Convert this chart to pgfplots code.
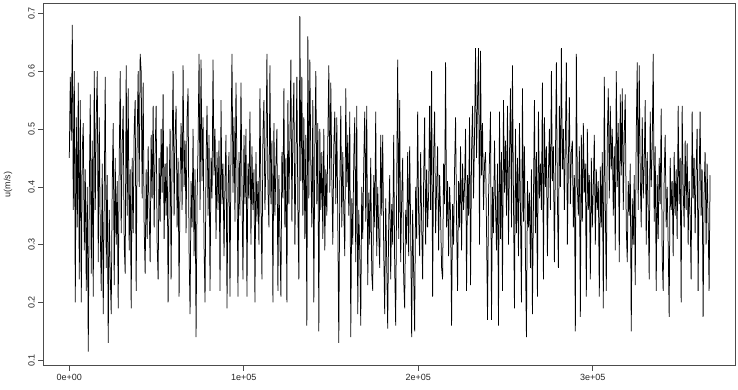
\documentclass[border=0pt]{standalone}
\usepackage{pgfplots}
\pgfplotsset{compat=1.18}
\usepackage{fontspec}
\setmainfont{Liberation Sans}
\begin{document}
\begin{tikzpicture}[x=1pt,y=1pt]
\path[use as bounding box] (-43.3,-23.3) rectangle (694.7,365.7);
\begin{axis}[
  at={(0,0)}, anchor=south west,
  scale only axis, width=692.4pt, height=362.4pt,
  xmin=-14900, xmax=381900, ymin=0.0907, ymax=0.7173,
  xtick={0,100000,200000,300000},
  xticklabels={0e+00,1e+05,2e+05,3e+05},
  ytick={0.1,0.2,0.3,0.4,0.5,0.6,0.7},
  yticklabels={0.1,0.2,0.3,0.4,0.5,0.6,0.7},
  scaled x ticks=false, scaled y ticks=false,
  tick pos=left,
  tick align=outside, major tick length=5pt,
  axis line style={black!70, line width=0.6pt},
  every tick/.style={black!70, line width=0.6pt},
  tick label style={font=\fontsize{9}{10}\selectfont, text=black!85},
  yticklabel style={rotate=90, anchor=south},
  ylabel={u(m/s)},
  ylabel style={font=\fontsize{9}{10}\selectfont, text=black!85, at={(axis description cs:-0.051,0.5)}, anchor=center},
]
\addplot[black, line width=0.75pt, mark=none, line join=bevel] table[row sep=\\, header=false, x expr=\coordindex*572, y index=0]{
0.45\\0.59\\0.48\\0.68\\0.36\\0.60\\0.20\\0.52\\0.33\\0.58\\
0.24\\0.55\\0.20\\0.46\\0.51\\0.29\\0.43\\0.22\\0.40\\0.115\\
0.38\\0.56\\0.25\\0.48\\0.21\\0.60\\0.36\\0.52\\0.60\\0.27\\
0.52\\0.33\\0.22\\0.44\\0.18\\0.38\\0.59\\0.26\\0.42\\0.13\\
0.36\\0.25\\0.18\\0.40\\0.51\\0.23\\0.45\\0.30\\0.41\\0.19\\
0.44\\0.60\\0.32\\0.47\\0.54\\0.30\\0.25\\0.61\\0.35\\0.57\\
0.29\\0.43\\0.19\\0.45\\0.32\\0.50\\0.55\\0.22\\0.48\\0.60\\
0.40\\0.63\\0.60\\0.38\\0.58\\0.33\\0.25\\0.43\\0.31\\0.47\\
0.36\\0.27\\0.49\\0.38\\0.54\\0.33\\0.46\\0.54\\0.30\\0.24\\
0.45\\0.34\\0.50\\0.39\\0.56\\0.31\\0.44\\0.35\\0.47\\0.20\\
0.39\\0.50\\0.24\\0.46\\0.60\\0.35\\0.49\\0.54\\0.33\\0.45\\
0.21\\0.42\\0.51\\0.36\\0.61\\0.40\\0.48\\0.32\\0.52\\0.57\\
0.29\\0.18\\0.41\\0.33\\0.50\\0.28\\0.43\\0.14\\0.38\\0.47\\
0.63\\0.36\\0.62\\0.41\\0.52\\0.30\\0.20\\0.44\\0.54\\0.35\\
0.49\\0.22\\0.45\\0.38\\0.62\\0.42\\0.50\\0.31\\0.46\\0.36\\
0.48\\0.22\\0.55\\0.37\\0.44\\0.28\\0.41\\0.49\\0.19\\0.40\\
0.46\\0.21\\0.47\\0.63\\0.39\\0.52\\0.34\\0.58\\0.43\\0.21\\
0.46\\0.35\\0.58\\0.40\\0.24\\0.49\\0.37\\0.50\\0.21\\0.44\\
0.38\\0.53\\0.30\\0.47\\0.36\\0.43\\0.20\\0.46\\0.34\\0.41\\
0.30\\0.57\\0.38\\0.24\\0.49\\0.55\\0.36\\0.45\\0.63\\0.40\\
0.33\\0.61\\0.37\\0.48\\0.20\\0.51\\0.35\\0.44\\0.50\\0.22\\
0.42\\0.31\\0.21\\0.46\\0.38\\0.57\\0.33\\0.45\\0.20\\0.55\\
0.37\\0.48\\0.62\\0.34\\0.50\\0.58\\0.30\\0.44\\0.59\\0.36\\
0.24\\0.695\\0.41\\0.59\\0.35\\0.52\\0.31\\0.49\\0.16\\0.66\\
0.38\\0.62\\0.44\\0.33\\0.55\\0.20\\0.47\\0.60\\0.37\\0.51\\
0.15\\0.50\\0.36\\0.46\\0.31\\0.50\\0.29\\0.43\\0.35\\0.48\\
0.61\\0.39\\0.58\\0.42\\0.30\\0.47\\0.53\\0.37\\0.52\\0.34\\
0.13\\0.40\\0.54\\0.33\\0.46\\0.36\\0.28\\0.57\\0.40\\0.49\\
0.35\\0.53\\0.14\\0.38\\0.30\\0.45\\0.52\\0.27\\0.54\\0.18\\
0.36\\0.29\\0.16\\0.40\\0.31\\0.44\\0.53\\0.34\\0.54\\0.23\\
0.39\\0.30\\0.45\\0.25\\0.22\\0.42\\0.33\\0.53\\0.28\\0.40\\
0.32\\0.26\\0.49\\0.35\\0.49\\0.29\\0.18\\0.38\\0.27\\0.155\\
0.34\\0.42\\0.24\\0.37\\0.30\\0.49\\0.26\\0.16\\0.40\\0.62\\
0.31\\0.55\\0.27\\0.38\\0.45\\0.24\\0.19\\0.36\\0.30\\0.46\\
0.28\\0.47\\0.33\\0.14\\0.36\\0.25\\0.15\\0.40\\0.31\\0.53\\
0.35\\0.28\\0.46\\0.34\\0.24\\0.41\\0.52\\0.30\\0.43\\0.33\\
0.39\\0.54\\0.36\\0.60\\0.21\\0.45\\0.53\\0.32\\0.40\\0.47\\
0.29\\0.42\\0.35\\0.26\\0.24\\0.44\\0.37\\0.615\\0.33\\0.41\\
0.28\\0.40\\0.35\\0.16\\0.37\\0.30\\0.43\\0.52\\0.34\\0.22\\
0.41\\0.33\\0.47\\0.29\\0.44\\0.36\\0.40\\0.50\\0.22\\0.42\\
0.35\\0.52\\0.23\\0.46\\0.54\\0.38\\0.49\\0.64\\0.45\\0.55\\
0.64\\0.30\\0.635\\0.42\\0.51\\0.36\\0.44\\0.46\\0.33\\0.17\\
0.38\\0.45\\0.53\\0.17\\0.40\\0.32\\0.48\\0.37\\0.29\\0.44\\
0.16\\0.53\\0.31\\0.46\\0.22\\0.55\\0.39\\0.48\\0.35\\0.54\\
0.30\\0.45\\0.57\\0.33\\0.61\\0.38\\0.19\\0.50\\0.32\\0.45\\
0.28\\0.51\\0.36\\0.20\\0.57\\0.34\\0.47\\0.28\\0.14\\0.41\\
0.33\\0.39\\0.26\\0.43\\0.18\\0.37\\0.55\\0.32\\0.46\\0.21\\
0.53\\0.38\\0.44\\0.36\\0.58\\0.24\\0.52\\0.40\\0.47\\0.28\\
0.42\\0.50\\0.36\\0.60\\0.41\\0.47\\0.27\\0.44\\0.615\\0.38\\
0.26\\0.54\\0.40\\0.64\\0.43\\0.50\\0.36\\0.48\\0.615\\0.30\\
0.44\\0.555\\0.37\\0.46\\0.48\\0.33\\0.42\\0.15\\0.63\\0.40\\
0.35\\0.47\\0.175\\0.49\\0.34\\0.51\\0.39\\0.44\\0.21\\0.50\\
0.36\\0.42\\0.24\\0.45\\0.33\\0.40\\0.49\\0.30\\0.43\\0.36\\
0.41\\0.21\\0.435\\0.33\\0.46\\0.19\\0.59\\0.37\\0.22\\0.48\\
0.57\\0.38\\0.54\\0.43\\0.50\\0.35\\0.47\\0.29\\0.60\\0.40\\
0.51\\0.27\\0.56\\0.42\\0.57\\0.36\\0.49\\0.56\\0.33\\0.27\\
0.41\\0.35\\0.44\\0.15\\0.38\\0.30\\0.42\\0.23\\0.49\\0.615\\
0.36\\0.61\\0.42\\0.33\\0.52\\0.38\\0.44\\0.55\\0.30\\0.46\\
0.36\\0.24\\0.53\\0.40\\0.47\\0.63\\0.34\\0.47\\0.22\\0.42\\
0.31\\0.45\\0.37\\0.535\\0.28\\0.22\\0.42\\0.49\\0.33\\0.40\\
0.30\\0.175\\0.45\\0.36\\0.41\\0.28\\0.46\\0.35\\0.43\\0.31\\
0.54\\0.37\\0.45\\0.20\\0.54\\0.40\\0.33\\0.48\\0.36\\0.475\\
0.30\\0.41\\0.35\\0.24\\0.53\\0.38\\0.45\\0.32\\0.43\\0.50\\
0.22\\0.41\\0.53\\0.35\\0.43\\0.175\\0.39\\0.46\\0.30\\0.44\\
0.34\\0.22\\0.42\\
};
\end{axis}
\end{tikzpicture}
\end{document}
